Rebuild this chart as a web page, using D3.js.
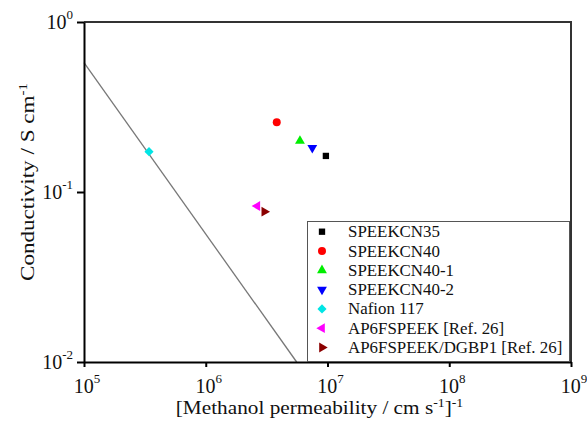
<!DOCTYPE html>
<html>
<head>
<meta charset="utf-8">
<script src="https://cdn.jsdelivr.net/npm/d3@7"></script>
<style>
  body { margin: 0; background: #fff; }
</style>
</head>
<body>
<svg id="chart" width="587" height="421"></svg>
<script>
// data
const sampleNames = ['SPEEKCN35', 'SPEEKCN40', 'SPEEKCN40-1', 'SPEEKCN40-2', 'Nafion 117', 'AP6FSPEEK [Ref. 26]', 'AP6FSPEEK/DGBP1 [Ref. 26]'];
const permeability = [9.7e6, 3.83e6, 5.94e6, 7.5e6, 3.42e5, 2.65e6, 3.03e6];
const conductivity = [0.163, 0.257, 0.1995, 0.182, 0.1726, 0.0827, 0.0766];
const markerColors = ['#000000', '#ff0000', '#00ee00', '#0000ff', '#00e5e5', '#ff00ff', '#8b0000'];
const markerShapes = ['square', 'circle', 'up', 'down', 'diamond', 'left', 'right'];
const trendPerm = [1e5, 5.58e6];
const trendCond = [0.576, 0.01];
const xTicks = [1e5, 1e6, 1e7, 1e8, 1e9];
const xTickExp = ['5', '6', '7', '8', '9'];
const yTicks = [1e-2, 1e-1, 1];
const yTickExp = ['-2', '-1', '0'];

const FONT = '"Liberation Serif", "Times New Roman", "DejaVu Serif", serif';

let svg = d3.select('#chart');
let width = 587, height = 421;
let margin = { top: 22, right: 16, bottom: 59, left: 84 };

let x = d3.scaleLog()
  .domain([1e5, 1e9])
  .range([margin.left, width - margin.right]);

let y = d3.scaleLog()
  .domain([1e-2, 1])
  .range([height - margin.bottom, margin.top]);

// symbol generator per shape
function symbolPath(shape) {
  if (shape === 'square') return d3.symbol(d3.symbolSquare, 40)();
  if (shape === 'circle') return d3.symbol(d3.symbolCircle, 50)();
  if (shape === 'diamond') return d3.symbol(d3.symbolSquare, 42)();
  return d3.symbol(d3.symbolTriangle, 42)();
}
function symbolRotate(shape) {
  return { down: 180, left: -90, right: 90, diamond: 45 }[shape] || 0;
}

// frame top / right
svg.append('path')
  .attr('d', `M${margin.left},${margin.top}H${width - margin.right}V${height - margin.bottom}`)
  .attr('fill', 'none')
  .attr('stroke', '#333')
  .attr('stroke-width', 2);

// trend line
let line = d3.line()
  .x(d => x(d[0]))
  .y(d => y(d[1]));

svg.append('path')
  .datum(d3.zip(trendPerm, trendCond))
  .attr('d', line)
  .attr('fill', 'none')
  .attr('stroke', '#777')
  .attr('stroke-width', 1.3);

// axes
svg.append('g')
  .attr('transform', `translate(0,${height - margin.bottom})`)
  .call(d3.axisBottom(x).tickValues(xTicks).tickFormat('').tickSize(5).tickSizeOuter(0));

svg.append('g')
  .attr('transform', `translate(${margin.left},0)`)
  .call(d3.axisLeft(y).tickValues(yTicks).tickFormat('').tickSize(7).tickSizeOuter(0));

svg.selectAll('.domain').attr('stroke', '#000').attr('stroke-width', 2);
svg.selectAll('.tick line').attr('stroke', '#000').attr('stroke-width', 2);

// tick labels as 10 with superscript
xTicks.forEach(function(v, i) {
  let t = svg.append('text')
    .attr('x', x(v) + 3)
    .attr('y', height - margin.bottom + 31)
    .attr('text-anchor', 'middle')
    .style('font-family', FONT)
    .style('font-size', '20px')
    .attr('fill', '#111');
  t.append('tspan').text('10');
  t.append('tspan').attr('dy', -10).style('font-size', '13px').text(xTickExp[i]);
});

yTicks.forEach(function(v, i) {
  let t = svg.append('text')
    .attr('x', margin.left - 11)
    .attr('y', y(v) + 7)
    .attr('text-anchor', 'end')
    .style('font-family', FONT)
    .style('font-size', '20px')
    .attr('fill', '#111');
  t.append('tspan').text('10');
  t.append('tspan').attr('dy', -10).style('font-size', '13px').text(yTickExp[i]);
});

// axis titles
let xt = svg.append('text')
  .attr('transform', `translate(${(margin.left + width - margin.right) / 2 - 8},414) scale(1.15,1)`)
  .attr('text-anchor', 'middle')
  .style('font-family', FONT)
  .style('font-size', '18.5px')
  .attr('fill', '#111');
xt.append('tspan').text('[Methanol permeability / cm s');
xt.append('tspan').attr('dy', -7).style('font-size', '12px').text('-1');
xt.append('tspan').attr('dy', 7).text(']');
xt.append('tspan').attr('dy', -7).style('font-size', '12px').text('-1');

let yt = svg.append('text')
  .attr('transform', 'translate(34,182) rotate(-90) scale(1.25,1.05)')
  .attr('text-anchor', 'middle')
  .style('font-family', FONT)
  .style('font-size', '18.5px')
  .attr('fill', '#111');
yt.append('tspan').text('Conductivity / S cm');
yt.append('tspan').attr('dy', -7).style('font-size', '12px').text('-1');

// points
let points = sampleNames.map((name, i) => ({
  name: name,
  perm: permeability[i],
  cond: conductivity[i],
  color: markerColors[i],
  shape: markerShapes[i]
}));

svg.append('g')
  .selectAll('path')
  .data(points)
  .enter()
  .append('path')
  .attr('d', d => symbolPath(d.shape))
  .attr('transform', d => `translate(${x(d.perm)},${y(d.cond)}) rotate(${symbolRotate(d.shape)})`)
  .attr('fill', d => d.color);

// legend
let legend = svg.append('g');
legend.append('rect')
  .attr('x', 307.5)
  .attr('y', 221.5)
  .attr('width', 262)
  .attr('height', 140)
  .attr('fill', '#fff')
  .attr('stroke', '#555')
  .attr('stroke-width', 1);

let rows = legend.selectAll('g.row')
  .data(points)
  .enter()
  .append('g')
  .attr('transform', (d, i) => `translate(322,${231.7 + i * 19.3})`);

rows.append('path')
  .attr('d', d => symbolPath(d.shape))
  .attr('transform', d => `rotate(${symbolRotate(d.shape)})`)
  .attr('fill', d => d.color);

rows.append('text')
  .attr('transform', 'translate(26,5.5) scale(1.09,1.03)')
  .style('font-family', FONT)
  .style('font-size', '15.5px')
  .attr('fill', '#111')
  .text(d => d.name);
</script>
</body>
</html>
